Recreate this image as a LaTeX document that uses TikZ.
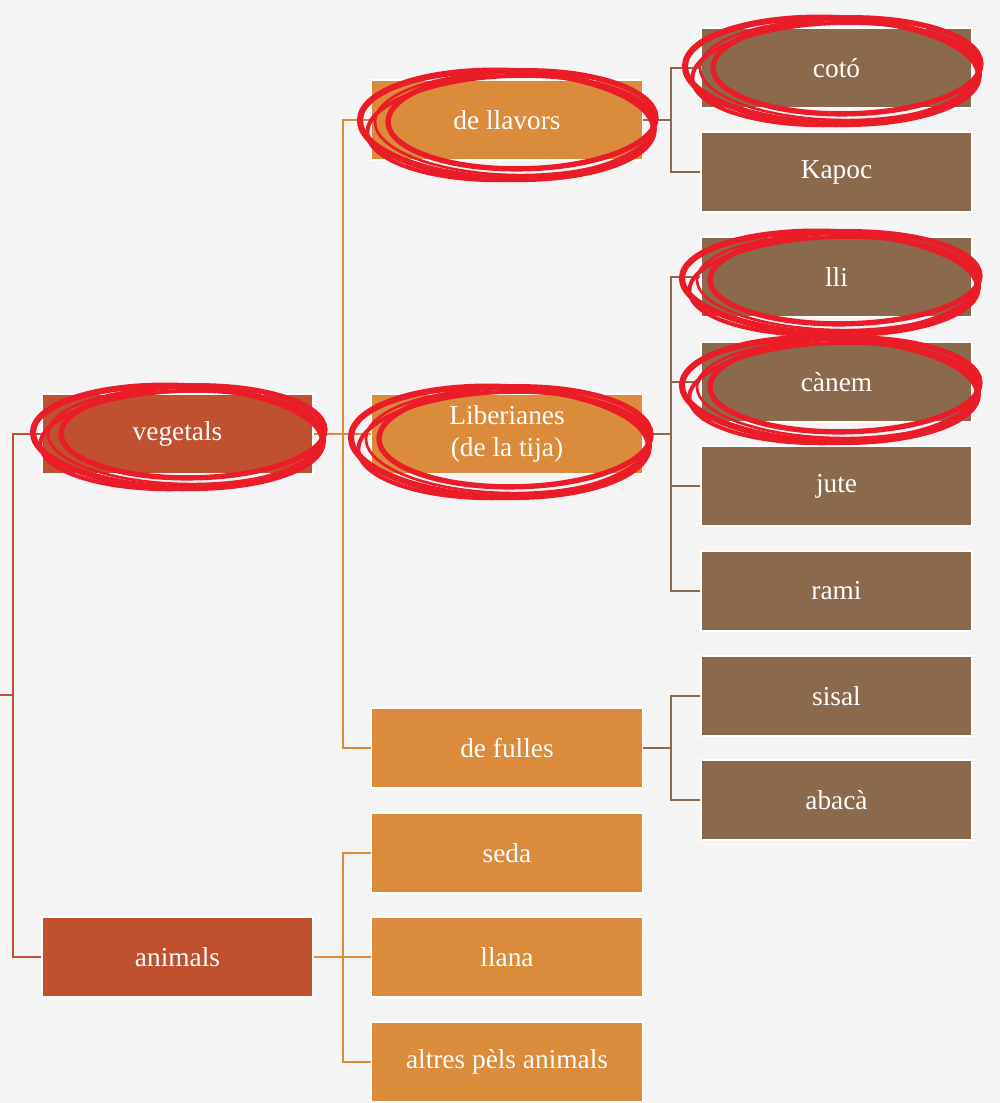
\documentclass[tikz,border=0pt]{standalone}
\usepackage{fontspec}
\setmainfont{Liberation Serif}
\definecolor{bgc}{HTML}{F4F4F4}
\definecolor{rust}{HTML}{BF5030}
\definecolor{orng}{HTML}{DB8B3C}
\definecolor{brwn}{HTML}{8B694D}
\definecolor{scribred}{HTML}{EA1C27}
\tikzset{
  bx/.style={draw=white, line width=0.9pt, minimum width=203.25pt, minimum height=60pt,
    inner sep=0pt, text=white, font=\fontsize{20.5}{24}\selectfont, align=center},
  lvA/.style={bx, fill=rust},
  lvB/.style={bx, fill=orng},
  lvC/.style={bx, fill=brwn},
  cA/.style={draw=rust, line width=2.1pt},
  cB/.style={draw=orng, line width=2.1pt},
  cC/.style={draw=brwn, line width=2.1pt},
  scrib/.style={draw=scribred, line width=#1},
}
\newcommand\redloop[5]{% name, cx, cy, rx, ry (px)
  \coordinate (#1) at (#2,#3);
  \draw[scrib=4.6pt, rotate around={-2:(#1)}] ([shift={(-5,3)}]#1) ellipse [x radius={(#4-3)*0.75pt}, y radius={(#5-3)*0.75pt}];
  \draw[scrib=4pt, rotate around={1:(#1)}] ([shift={(10,-2)}]#1) ellipse [x radius={(#4-16)*0.75pt}, y radius={(#5-8)*0.75pt}];
  \draw[scrib=3pt, rotate around={2:(#1)}] ([shift={(-1,6)}]#1) ellipse [x radius={(#4-6)*0.75pt}, y radius={(#5-5)*0.75pt}];
  \draw[scrib=2pt, rotate around={-1:(#1)}] ([shift={(3,2)}]#1) ellipse [x radius={(#4-10)*0.75pt}, y radius={(#5-6)*0.75pt}];
}
\begin{document}
\begin{tikzpicture}[x=0.75pt,y=-0.75pt]
\fill[bgc] (0,0) rectangle (1000,1103);
\useasboundingbox (0,0) rectangle (1000,1103);

% level 1
\node[lvA] (veg) at (177.5,434) {vegetals};
\node[lvA] (ani) at (177.5,957) {animals};
% level 2
\node[lvB] (llav) at (507,120) {de llavors};
\node[lvB] (lib) at (507,434) {Liberianes\\(de la tija)};
\node[lvB] (full) at (507,748) {de fulles};
\node[lvB] (seda) at (507,853) {seda};
\node[lvB] (llana) at (507,957) {llana};
\node[lvB] (altres) at (507,1062) {altres pèls animals};
% level 3
\node[lvC] (coto) at (836.5,68) {cotó};
\node[lvC] (kapoc) at (836.5,172) {Kapoc};
\node[lvC] (lli) at (836.5,277) {lli};
\node[lvC] (canem) at (836.5,382) {cànem};
\node[lvC] (jute) at (836.5,486) {jute};
\node[lvC] (rami) at (836.5,591) {rami};
\node[lvC] (sisal) at (836.5,696) {sisal};
\node[lvC] (abaca) at (836.5,800) {abacà};

% connectors
\coordinate (r0) at (0,695);
\coordinate (rj) at (13,695);
\draw[cA] (r0) -- (rj);
\draw[cA] (rj) |- (veg.west);
\draw[cA] (rj) |- (ani.west);

\coordinate (vj) at (343,434);
\draw[cB] (veg.east) -- (vj);
\draw[cB] (vj) |- (llav.west);
\draw[cB] (vj) |- (lib.west);
\draw[cB] (vj) |- (full.west);

\coordinate (aj) at (343,957);
\draw[cB] (ani.east) -- (aj);
\draw[cB] (aj) |- (seda.west);
\draw[cB] (aj) |- (llana.west);
\draw[cB] (aj) |- (altres.west);

\coordinate (lj) at (671,120);
\draw[cC] (llav.east) -- (lj);
\draw[cC] (lj) |- (coto.west);
\draw[cC] (lj) |- (kapoc.west);

\coordinate (bj) at (671,434);
\draw[cC] (lib.east) -- (bj);
\draw[cC] (bj) |- (lli.west);
\draw[cC] (bj) |- (canem.west);
\draw[cC] (bj) |- (jute.west);
\draw[cC] (bj) |- (rami.west);

\coordinate (fj) at (671,748);
\draw[cC] (full.east) -- (fj);
\draw[cC] (fj) |- (sisal.west);
\draw[cC] (fj) |- (abaca.west);

% red scribbles
\redloop{e1}{183}{434}{148}{54}
\redloop{e2}{512}{122}{150}{57}
\redloop{e3}{505}{439}{152}{58}
\redloop{e4}{837}{68}{150}{56}
\redloop{e5}{835}{280}{151}{54}
\redloop{e6}{835}{387}{151}{55}
\end{tikzpicture}
\end{document}
